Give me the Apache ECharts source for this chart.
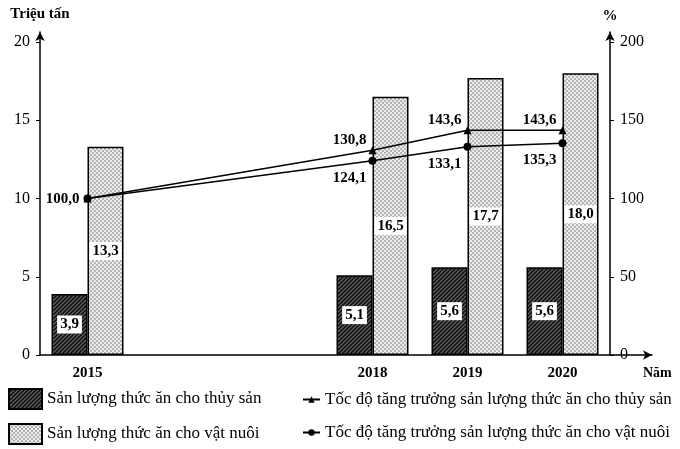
<!DOCTYPE html>
<html><head><meta charset="utf-8">
<script src="https://cdn.jsdelivr.net/npm/echarts@6/dist/echarts.min.js"></script>
<style>html,body{margin:0;padding:0;background:#fff}#c{width:680px;height:449px}</style>
</head><body><div id="c"></div>
<script>
var years = [2015, 2018, 2019, 2020];
var yearLabels = ['2015', '2018', '2019', '2020'];
var thuySan = [3.9, 5.1, 5.6, 5.6];
var vatNuoi = [13.3, 16.5, 17.7, 18.0];
var tocDoThuySan = [100.0, 130.8, 143.6, 143.6];
var tocDoVatNuoi = [100.0, 124.1, 133.1, 135.3];
var leftTicks = [0, 5, 10, 15, 20];
var rightTicks = [0, 50, 100, 150, 200];
var names = ['Sản lượng thức ăn cho thủy sản', 'Sản lượng thức ăn cho vật nuôi',
  'Tốc độ tăng trưởng sản lượng thức ăn cho thủy sản', 'Tốc độ tăng trưởng sản lượng thức ăn cho vật nuôi'];

function fmt(v){ return v.toFixed(1).replace('.', ','); }
function pair(xs, ys){ return xs.map(function(x,i){ return [x, ys[i]]; }); }

function hatch(){
  var c = document.createElement('canvas'); c.width = 4; c.height = 4;
  var g = c.getContext('2d');
  g.fillStyle = '#6a6a6a'; g.fillRect(0,0,4,4);
  g.strokeStyle = '#111'; g.lineWidth = 1.6;
  g.beginPath();
  g.moveTo(-1,5); g.lineTo(5,-1);
  g.moveTo(-1,1); g.lineTo(1,-1);
  g.moveTo(3,5); g.lineTo(5,3);
  g.stroke();
  return c;
}
function dots(){
  var c = document.createElement('canvas'); c.width = 4; c.height = 4;
  var g = c.getContext('2d');
  g.fillStyle = '#ececec'; g.fillRect(0,0,4,4);
  g.fillStyle = '#b4b4b4';
  g.fillRect(0,0,2,2); g.fillRect(2,2,2,2);
  return c;
}
var serif = '"Liberation Serif", "DejaVu Serif", serif';
var chart = echarts.init(document.getElementById('c'));
var barLabel = {
  show: true, position: 'inside', formatter: function(p){ return fmt(p.value[1]); },
  color: '#000', fontFamily: serif, fontWeight: 'bold', fontSize: 15,
  backgroundColor: '#fff', padding: [2, 3, 1, 3]
};
var fishData = pair(years, tocDoThuySan).map(function(d, i){
  return { value: d, label: i === 0 ? { distance: 4, offset: [0, 1] } : {} };
});
var stockData = pair(years, tocDoVatNuoi).map(function(d, i){
  return { value: d, label: i === 0 ? { show: false } : {} };
});
chart.setOption({
  animation: false,
  textStyle: { fontFamily: serif },
  grid: { left: 40, right: 28, top: 32, bottom: 94 },
  legend: [
    { data: [names[0], names[1]], orient: 'vertical', left: 8, top: 388, padding: 0, itemWidth: 33, itemHeight: 20,
      itemGap: 13, icon: 'rect', textStyle: { fontFamily: serif, fontSize: 17, color: '#000' } },
    { data: [names[2], names[3]], orient: 'vertical', left: 302, top: 391, padding: 0, itemWidth: 17, itemHeight: 8,
      itemGap: 16, textStyle: { fontFamily: serif, fontSize: 17, color: '#000' } }
  ],
  xAxis: {
    type: 'value', min: 2014.5, max: 2020.942,
    name: 'Năm', nameLocation: 'end', nameGap: -9,
    nameTextStyle: { fontFamily: serif, fontSize: 14, fontWeight: 'bold', color: '#000', align: 'left', verticalAlign: 'top', padding: [11, 0, 0, 0] },
    axisLine: { lineStyle: { color: '#000', width: 1.5 }, symbol: ['none', 'arrow'], symbolSize: [7, 9] },
    axisTick: { show: false },
    splitLine: { show: false },
    axisLabel: { customValues: years, margin: 11, color: '#000', fontFamily: serif, fontSize: 15, fontWeight: 'bold',
      formatter: function(v){ var i = years.indexOf(Math.round(v)); return i >= 0 ? yearLabels[i] : ''; } }
  },
  yAxis: [
    { type: 'value', min: 0, max: 20.64, name: 'Triệu tấn', nameLocation: 'end', nameGap: 10,
      nameTextStyle: { fontFamily: serif, fontSize: 15, fontWeight: 'bold', color: '#000', align: 'center' },
      axisLine: { show: true, lineStyle: { color: '#000', width: 1.5 }, symbol: ['none', 'arrow'], symbolSize: [7, 9] },
      axisTick: { show: true, customValues: leftTicks, length: 4, lineStyle: { color: '#000' } },
      splitLine: { show: false },
      axisLabel: { customValues: leftTicks, margin: 10, color: '#000', fontFamily: serif, fontSize: 16 } },
    { type: 'value', min: 0, max: 206.4, position: 'right', offset: -42, name: '%', nameLocation: 'end', nameGap: 8,
      nameTextStyle: { fontFamily: serif, fontSize: 15, fontWeight: 'bold', color: '#000', align: 'center' },
      axisLine: { show: true, lineStyle: { color: '#000', width: 1.5 }, symbol: ['none', 'arrow'], symbolSize: [7, 9] },
      axisTick: { show: true, customValues: rightTicks, length: 4, lineStyle: { color: '#000' } },
      splitLine: { show: false },
      axisLabel: { customValues: rightTicks, margin: 10, color: '#000', fontFamily: serif, fontSize: 16 } }
  ],
  series: [
    { name: names[0], type: 'bar', data: pair(years, thuySan), barWidth: 36, barGap: '0%',
      itemStyle: { color: { image: hatch(), repeat: 'repeat' }, borderColor: '#000', borderWidth: 1.5 },
      label: barLabel },
    { name: names[1], type: 'bar', data: pair(years, vatNuoi), barWidth: 36, barGap: '0%',
      itemStyle: { color: { image: dots(), repeat: 'repeat' }, borderColor: '#000', borderWidth: 1.5 },
      label: barLabel },
    { name: names[2], type: 'line', yAxisIndex: 1, data: fishData, symbol: 'triangle', symbolSize: 8,
      lineStyle: { color: '#000', width: 1.5 }, itemStyle: { color: '#000' }, z: 5,
      label: { show: true, position: 'left', distance: 2, offset: [0, -10], color: '#000', fontFamily: serif, fontWeight: 'bold', fontSize: 15,
        formatter: function(p){ return fmt(p.value[1]); } } },
    { name: names[3], type: 'line', yAxisIndex: 1, data: stockData, symbol: 'circle', symbolSize: 8,
      lineStyle: { color: '#000', width: 1.5 }, itemStyle: { color: '#000' }, z: 5,
      label: { show: true, position: 'left', distance: 2, offset: [0, 17], color: '#000', fontFamily: serif, fontWeight: 'bold', fontSize: 15,
        formatter: function(p){ return fmt(p.value[1]); } } }
  ]
});
</script></body></html>
